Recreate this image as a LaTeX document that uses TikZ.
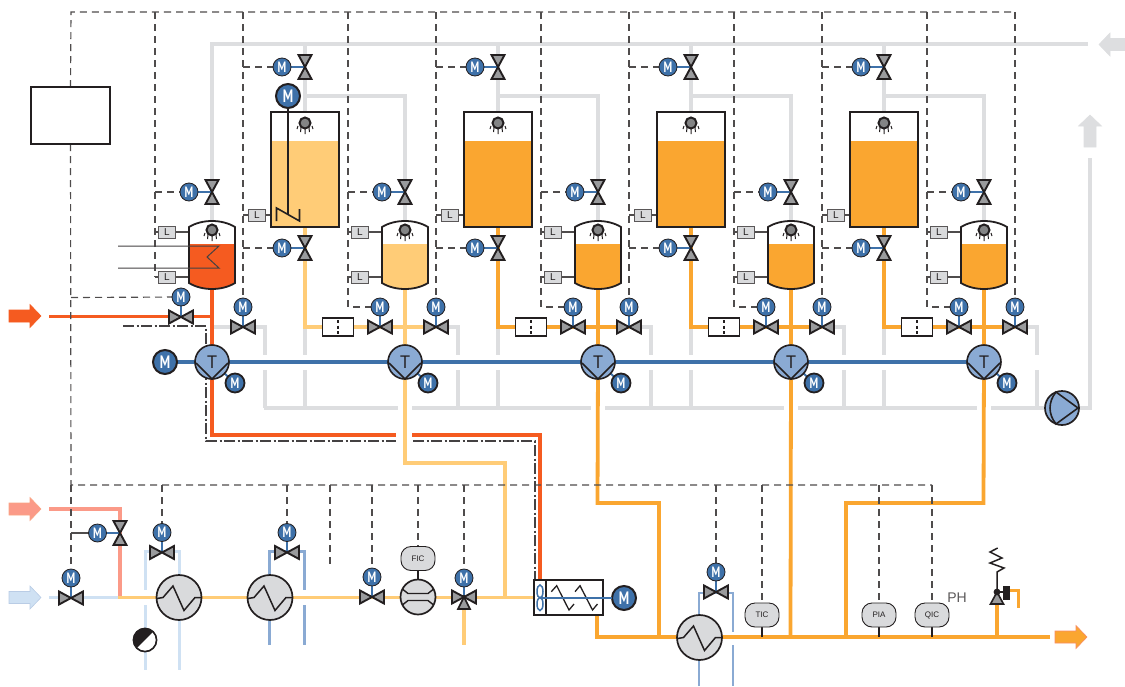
\documentclass[tikz,border=0pt]{standalone}
\usepackage{fontspec}
\setmainfont{Liberation Sans}
\newfontfamily\mfont[FakeStretch=0.72]{PT Sans}
\newfontfamily\tfont{PT Sans}
\definecolor{cRed}{HTML}{F55B20}
\definecolor{cPink}{HTML}{FB9A88}
\definecolor{cPale}{HTML}{FFCC77}
\definecolor{cOr}{HTML}{FAA630}
\definecolor{cIce}{HTML}{CFE1F3}
\definecolor{cSteel}{HTML}{8AAAD3}
\definecolor{cBlue}{HTML}{3E71A9}
\definecolor{cGrey}{HTML}{DDDEE0}
\definecolor{cDark}{HTML}{231F20}
\definecolor{cInst}{HTML}{D9DADC}
\definecolor{cVal}{HTML}{9A9B9D}
\pgfdeclarelayer{bgl}
\pgfsetlayers{bgl,main}
\newcommand\colset{\pgfmathsetmacro\xc{212+193*\i}\pgfmathsetmacro\xt{\xc+93}\pgfmathsetmacro\xa{\xc-57}\pgfmathsetmacro\xb{\xc+31}\pgfmathsetmacro\xr{\xc+53}}
\tikzset{
  pipe/.style={line width=3.8pt,line join=miter},
  sigline/.style={line width=1.15pt,cDark!80,dash pattern=on 7pt off 5pt},
  dashdot/.style={line width=1.15pt,cDark!85,dash pattern=on 11pt off 2.5pt on 2pt off 2.5pt},
  stub/.style={line width=1.1pt,cDark!80},
  stem/.style={line width=2pt,cBlue},
  motor/.style={circle,draw=cDark,fill=cBlue,line width=.8pt,minimum size=18pt,inner sep=0pt,outer sep=0pt,text=white,font=\mfont\bfseries\fontsize{15}{15}\selectfont},
  motorbig/.style={motor,line width=2pt,minimum size=24pt,font=\mfont\bfseries\fontsize{18}{18}\selectfont},
  motormid/.style={motor,line width=1.8pt,minimum size=19pt,font=\mfont\bfseries\fontsize{15}{15}\selectfont},
  lbox/.style={draw=cDark!75,fill=cInst,line width=1pt,minimum width=17pt,minimum height=12pt,inner sep=0pt,outer sep=0pt,font=\fontsize{10}{10}\selectfont,text=cDark},
  instr/.style={draw=cDark,fill=cInst,line width=.9pt,rounded corners=10pt,minimum width=34pt,minimum height=24pt,inner sep=0pt,outer sep=0pt,font=\fontsize{8}{8}\selectfont,text=cDark},
  tee/.style={circle,draw=cDark,fill=cSteel,line width=1.6pt,minimum size=34pt,inner sep=0pt,outer sep=0pt,font=\tfont\fontsize{18}{18}\selectfont,text=cDark},
  hull/.style={minimum width=46pt,minimum height=68pt,inner sep=0pt,outer sep=0pt},
  hvalve/.pic={\draw[cDark,fill=cVal,line width=1.9pt,line join=miter] (-12,-6.5)--(12,6.5)--(12,-6.5)--(-12,6.5)--cycle;},
  vvalve/.pic={\draw[cDark,fill=cVal,line width=1.9pt,line join=miter] (-6.5,-12)--(6.5,12)--(-6.5,12)--(6.5,-12)--cycle;},
  sprayer/.pic={\draw[cDark,line width=1pt] (-7,3)--(-8,6) (-4,5)--(-4.5,9) (0,6)--(0,11) (4,5)--(4.5,9) (7,3)--(8,6);
    \draw[cDark,fill=cVal!85!black,line width=2pt] (0,0) circle (5.5);},
  hxch/.pic={\draw[cDark,fill=cInst,line width=1.7pt] (0,0) circle (22.5);
    \draw[cDark,line width=1.5pt] (-22,1)--(-16,0)--(-6,-11.5)--(5,13)--(16,0)--(22,0);},
  bigarrow/.pic={\draw[pic actions,line width=.6pt,line join=miter] (-16,-6)--(5,-6)--(5,-11.5)--(16,0)--(5,11.5)--(5,6)--(-16,6)--cycle;}
}
\begin{document}
\begin{tikzpicture}[x=1pt,y=-1pt]
\useasboundingbox (0,0) rectangle (1125,686);
\coordinate (busT) at (71,12);
\coordinate (busL) at (71,485);
% ---------- repeated process columns
\foreach \i/\cs/\cb in {0/cRed/cPale,1/cPale/cOr,2/cOr/cOr,3/cOr/cOr,4/cOr/cOr}{\colset
  \node[hull] (tankS\i) at (\xc,255) {};
  \fill[\cs] (\xc-23,244)--(\xc+23,244)--(\xc+23,283) .. controls (\xc+10,291) and (\xc-10,291) .. (\xc-23,283)--cycle;
  \draw[cDark,line width=1.8pt] (\xc-23,227) .. controls (\xc-10,219) and (\xc+10,219) .. (\xc+23,227)--(\xc+23,283) .. controls (\xc+10,291) and (\xc-10,291) .. (\xc-23,283)--cycle;
  \pic at (\xc,230) {sprayer};
  \node[lbox] (lA\i) at (\xc-45,232) {L};
  \node[lbox] (lB\i) at (\xc-45,277) {L};
  \coordinate (vS\i) at (\xc,192); \pic at (vS\i) {vvalve};
  \node[motor] (mS\i) at (\xc-23,192) {M};
  \coordinate (vR\i) at (\xb,327); \pic at (vR\i) {hvalve};
  \node[motor] (mR\i) at (\xb,307) {M};
  \ifnum\i>0
    \coordinate (vL\i) at (\xc-25,327); \pic at (vL\i) {hvalve};
    \node[motor] (mL\i) at (\xc-25,307) {M};
  \fi
  \node[tee] (T\i) at (\xc,362) {T};
  \draw[cDark,line width=1.6pt] (\xc-16,363)--(\xc,379)--(\xc+16,363);
  \node[motormid] (mT\i) at (\xc+23,383) {M};
  \ifnum\i<4
    \fill[\cb] (\xt-34,141) rectangle (\xt+34,227);
    \node[draw=cDark,line width=2pt,minimum width=68pt,minimum height=115pt,inner sep=0pt,outer sep=0pt] (tankB\i) at (\xt,169.5) {};
    \pic at (\xt,123) {sprayer};
    \node[lbox] (lT\i) at (\xt-48,215) {L};
    \coordinate (vTop\i) at (\xt,67); \pic at (vTop\i) {vvalve};
    \node[motor] (mTop\i) at (\xt-23,67) {M};
    \coordinate (vOut\i) at (\xt,248); \pic at (vOut\i) {vvalve};
    \node[motor] (mOut\i) at (\xt-23,248) {M};
    \node[draw=cDark,fill=white,line width=1.6pt,minimum width=31pt,minimum height=18pt,inner sep=0pt,outer sep=0pt] (box\i) at (\xt+33,327) {};
    \draw[cDark,line width=1.1pt,dash pattern=on 3pt off 2.5pt] (\xt+33,320)--(\xt+33,335);
  \fi
}
% ---------- agitator of first vessel
\node[motorbig] (mAg) at (288,96) {M};
\coordinate (agFoot) at (288,215);
\draw[cDark,line width=1.6pt,line join=miter] (276.5,221)--(276.5,208)--(299.5,221)--(299.5,209);
\draw[cDark,line width=1.6pt] (mAg)--(agFoot);
% ---------- heating coil of first small vessel
\coordinate (coilA) at (118,246);
\coordinate (coilB) at (118,268);
\draw[cDark!85,line width=1pt,line join=miter] (coilA)--(219,246)--(207,257)--(219,268)--(coilB);
% ---------- control box
\node[draw=cDark,fill=white,line width=2pt,minimum width=79pt,minimum height=57pt,inner sep=0pt,outer sep=0pt] (ctrl) at (70.5,115.5) {};
% ---------- inlet valves
\coordinate (vIn) at (181,317); \pic at (vIn) {hvalve};
\node[motor] (mIn) at (181,297) {M};
\node[motorbig] (mMain) at (165,362) {M};
\coordinate (vP) at (120,533); \pic at (vP) {vvalve};
\node[motor] (mP) at (97.5,533) {M};
\coordinate (vC) at (71,598); \pic at (vC) {hvalve};
\node[motor] (mC) at (71,578) {M};
% ---------- bottom line
\coordinate (hx1) at (179,597.5); \pic at (hx1) {hxch};
\coordinate (hx2) at (270,597.5); \pic at (hx2) {hxch};
\coordinate (hx3) at (699.5,637.5); \pic at (hx3) {hxch};
\coordinate (vh1) at (162,552.5); \pic at (vh1) {hvalve};
\node[motor] (mh1) at (162,532.5) {M};
\coordinate (vh2) at (287,552.5); \pic at (vh2) {hvalve};
\node[motor] (mh2) at (287,532.5) {M};
\coordinate (vh3) at (716,592); \pic at (vh3) {hvalve};
\node[motor] (mh3) at (716,572) {M};
\fill[cDark] (145,640) circle (12);
\fill[white] (145,640) ++(-45:11) arc (-45:135:11)--cycle;
\draw[cDark,line width=1.6pt] (145,640) circle (11.6);
\node[minimum size=24pt,inner sep=0pt] (bw) at (145,640) {};
\coordinate (v1) at (372,597); \pic at (v1) {hvalve};
\node[motor] (m1) at (372,577) {M};
\node[circle,draw=cDark,fill=cInst,line width=1.7pt,minimum size=35pt,inner sep=0pt,outer sep=0pt] (fm) at (418,597) {};
\draw[cDark,line width=1.4pt] (403,589.5)--(408,593.5)--(428,593.5)--(433,589.5) (403,604.5)--(408,600.5)--(428,600.5)--(433,604.5);
\node[instr] (FIC) at (418,558.5) {FIC};
\coordinate (v3w) at (464,597); \pic at (v3w) {hvalve};
\draw[cDark,fill=cVal,line width=1.6pt,line join=miter] (464,597)--(458,609)--(470,609)--cycle;
\fill[cDark] (464,597) circle (2);
\node[motor] (m3w) at (464,578) {M};
% ---------- heat box
\node[draw=cDark,fill=white,line width=1.8pt,minimum width=69pt,minimum height=35pt,inner sep=0pt,outer sep=0pt] (hbox) at (568.5,597.5) {};
\draw[cDark,line width=1.5pt] (546,580)--(546,615);
\draw[cDark,line width=1.3pt] (551.3,591.7)--(556.7,585.7)--(569,610)--(574,604) (575,591.7)--(580,585.7)--(592.5,610)--(597.5,604);
\draw[cBlue,fill=white,line width=1.5pt] (540,591.5) ellipse (3 and 6.5);
\draw[cBlue,fill=white,line width=1.5pt] (540,604) ellipse (3 and 6.5);
\node[motorbig] (mBox) at (624,598) {M};
\draw[cBlue,line width=1.6pt] (540,598)--(mBox);
% ---------- instruments
\node[instr] (TIC) at (762,615) {TIC};
\node[instr] (PIA) at (879,615) {PIA};
\node[instr] (QIC) at (932,615) {QIC};
\node[text=cDark!75,font=\fontsize{14}{14}\selectfont,inner sep=0pt] (PH) at (957,598) {PH};
% ---------- relief valve
\coordinate (rv) at (997,592);
\draw[cDark,fill=cVal,line width=1.6pt,line join=miter] (rv)--(990.5,604)--(1003.5,604)--cycle;
\fill[cDark] (rv) circle (3.4);
\fill[cDark] (1003,586) rectangle (1010,600);
\draw[cDark,line width=1.5pt,line join=miter] (rv)--(997,572)--(1004,568)--(990,563)--(1002,558)--(990,552)--(997.7,548);
\draw[cDark,line width=1.8pt] (rv)--(1003,592);
% ---------- pump
\node[circle,draw=cDark,fill=cSteel,line width=1.7pt,minimum size=34pt,inner sep=0pt,outer sep=0pt] (pump) at (1062,408) {};
\draw[cDark,line width=1.6pt,line join=miter] (1056,392) .. controls (1048,402) and (1048,414) .. (1056,424)--(1078,408)--cycle;
% ---------- stream arrows
\pic[fill=cRed,draw=cRed] at (25,316) {bigarrow};
\pic[fill=cPink,draw=cRed!55] at (25,509) {bigarrow};
\pic[fill=cIce,draw=cSteel!60] at (25,597.5) {bigarrow};
\pic[fill=cOr,draw=cRed!70] at (1071,637) {bigarrow};
\pic[fill=cGrey,draw=cGrey,rotate=180] at (1115,44.5) {bigarrow};
\pic[fill=cGrey,draw=cGrey,rotate=90] at (1090,131) {bigarrow};
% ---------- connectors, under the parts
\begin{pgfonlayer}{bgl}
  % utility (grey)
  \coordinate (hdrEnd) at (1088,44);
  \coordinate (retEnd) at (1090,158);
  \draw[pipe,cGrey] (tankS0.north)--(212,44)--(hdrEnd);
  \foreach \i in {0,...,4}{\colset
    \ifnum\i=0
      \draw[pipe,cGrey] (T0.center |- vR0)--(\xr,327)--(\xr,355);
    \else
      \draw[pipe,cGrey] (vR\i)--(\xr,327)--(\xr,355);
    \fi
    \draw[pipe,cGrey] (\xr,370)--(\xr,408);
    \ifnum\i<4
      \draw[pipe,cGrey] (\xt,44)--(tankB\i.north);
      \draw[pipe,cGrey] (\xt,96)--(\xt+100,96)--(\xt+100,222);
      \draw[pipe,cGrey] (\xt,327)--(\xt,355);
      \draw[pipe,cGrey] (\xt,370)--(\xt,408);
    \fi
  }
  \draw[pipe,cGrey] (264,408)--(398,408);
  \draw[pipe,cGrey] (412,408)--(591,408);
  \draw[pipe,cGrey] (605,408)--(784,408);
  \draw[pipe,cGrey] (798,408)--(977,408);
  \draw[pipe,cGrey] (991,408)--(pump);
  \draw[pipe,cGrey] (pump)--(1090,408)--(retEnd);
  % process pipes
  \draw[pipe,cIce] (49,597.5)--(120,597.5);
  \draw[pipe,cPink] (49,509)--(120,509)--(120,597.5);
  \draw[pipe,cPale] (v3w)--(464,645);
  \draw[pipe,cPale] (118,597.5)--(hbox.west |- hx1);
  \foreach \i/\cs/\cb in {0/cRed/cPale,1/cPale/cOr,2/cOr/cOr,3/cOr/cOr,4/cOr/cOr}{\colset
    \draw[pipe,\cs] (tankS\i.south)--(T\i.center);
    \ifnum\i<4
      \pgfmathsetmacro\xn{int(\i+1)}
      \draw[pipe,\cb] (tankB\i.south)--(\xt,327)--(vR\xn);
    \fi
  }
  \draw[pipe,cRed] (49,316.5)--(212,316.5);
  \draw[pipe,cRed] (T0.center)--(212,435)--(396,435);
  \draw[pipe,cRed] (412,435)--(540,435)--(540,582);
  \draw[pipe,cPale] (T1.center)--(405,463)--(505,463)--(505,597.5);
  \draw[pipe,cOr] (T2.center)--(597.5,503)--(659,503)--(659,637);
  \draw[pipe,cOr] (T3.center)--(790.5,637);
  \draw[pipe,cOr] (T4.center)--(983.5,503)--(846,503)--(846,637);
  \draw[pipe,cOr] (597,613)--(597,637)--(1050,637);
  \draw[pipe,cOr] (997,637)--(rv);
  \draw[line width=3pt,cOr,line join=miter] (1008,590)--(1018,590)--(1018,608);
  % cooling circuits
  \draw[line width=3pt,cIce] (145,590)--(145,551)--(179,551)--(179,670);
  \draw[line width=3pt,cIce] (145,605)--(145,670);
  \draw[line width=3pt,cSteel] (269,645)--(269,551)--(304,551)--(304,590);
  \draw[line width=3pt,cSteel] (304,605)--(304,645);
  \draw[line width=2.6pt,cSteel] (699,686)--(699,593)--(733,593)--(733,632);
  \draw[line width=2.6pt,cSteel] (733,645)--(733,686);
  % drive shaft
  \draw[line width=3.8pt,cBlue] (mMain)--(T4.center);
  % motor stems
  \foreach \i in {0,...,4}{
    \draw[stem] (mS\i)--(vS\i);
    \draw[stem] (mR\i)--(vR\i);
    \draw[stem] (T\i)--(mT\i);
    \ifnum\i>0 \draw[stem] (mL\i)--(vL\i); \fi
    \ifnum\i<4
      \draw[stem] (mTop\i)--(vTop\i);
      \draw[stem] (mOut\i)--(vOut\i);
    \fi
  }
  \draw[stem] (mIn)--(vIn);
  \draw[stem] (mP)--(vP);
  \draw[stem] (mC)--(vC);
  \draw[stem] (mh1)--(vh1);
  \draw[stem] (mh2)--(vh2);
  \draw[stem] (mh3)--(vh3);
  \draw[stem] (m1)--(v1);
  \draw[stem] (m3w)--(v3w);
  % signal lines
  \draw[sigline] (ctrl.north)--(busT)--(1014,12);
  \draw[sigline] (ctrl.south)--(busL)--(932,485);
  \draw[sigline] (busL)--(mC);
  \draw[sigline] (71,297.5)--(mIn);
  \draw[stub] (71,533)--(mP);
  \foreach \i in {0,...,4}{\colset
    \draw[sigline] (\xb,12)--(mR\i);
    \draw[sigline] (\xa,192)--(mS\i);
    \ifnum\i=0
      \draw[sigline] (\xa,12)--(\xa,277);
    \else
      \draw[sigline] (\xa,12)--(\xa,307)--(mL\i);
    \fi
    \draw[stub] (\xa,232)--(lA\i)--(\xc-23,232);
    \draw[stub] (\xa,277)--(lB\i)--(\xc-23,277);
    \ifnum\i<4
      \draw[sigline] (\xb,67)--(mTop\i);
      \draw[sigline] (\xb,248)--(mOut\i);
      \draw[stub] (\xb,215)--(lT\i)--(\xt-34,215);
    \fi
  }
  \foreach \n in {mh1,mh2,m1,FIC,m3w,mh3,TIC,PIA,QIC}{\draw[sigline] (\n |- busL)--(\n);}
  \coordinate (stubEnd) at (330,566);
  \draw[sigline] (stubEnd |- busL)--(stubEnd);
  \draw[dashdot] (123,326)--(206,326)--(206,441)--(396,441);
  \draw[dashdot] (413,441)--(535,441)--(535,580);
  \draw[line width=1.6pt,cDark] (FIC)--(fm);
  \draw[line width=1.6pt,cDark] (TIC.south)--(762,637);
  \draw[line width=1.6pt,cDark] (PIA.south)--(879,637);
  \draw[line width=1.6pt,cDark] (QIC.south)--(932,637);
\end{pgfonlayer}
\end{tikzpicture}
\end{document}
